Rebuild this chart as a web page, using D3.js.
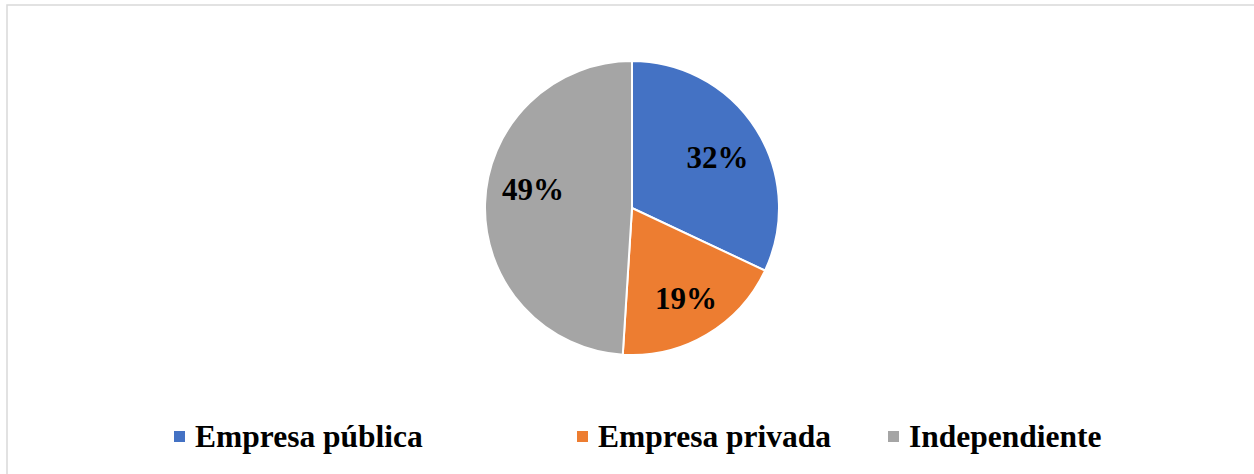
<!DOCTYPE html>
<html><head><meta charset="utf-8">
<script src="https://cdn.jsdelivr.net/npm/d3@7"></script>
<style>html,body{margin:0;padding:0;background:#fff;}svg{display:block;}</style>
</head><body>
<svg id="chart" width="1254" height="474"></svg>
<script>
const categories = ["Empresa pública", "Empresa privada", "Independiente"];
const values = [32, 19, 49];
const labels = ["32%", "19%", "49%"];
const colors = ["#4472C4", "#ED7D31", "#A5A5A5"];

const svg = d3.select("#chart");
svg.append("rect").attr("x", 7).attr("y", 5).attr("width", 1260).attr("height", 480)
  .attr("fill", "#fff").attr("stroke", "#d9d9d9").attr("stroke-width", 1.5);

const cx = 632, cy = 208, r = 147;
const pie = d3.pie().sort(null).value(d => d)(values);
const arc = d3.arc().innerRadius(0).outerRadius(r);
const g = svg.append("g").attr("transform", `translate(${cx},${cy})`);
g.selectAll("path").data(pie).enter().append("path")
  .attr("d", arc).attr("fill", (d, i) => colors[i])
  .attr("stroke", "#fff").attr("stroke-width", 2);

// label placement (best-fit style nudges)
const nudge = [[1, 3], [3, 4.5], [1, -16]];
const labelArc = d3.arc().innerRadius(r * 0.68).outerRadius(r * 0.68);
g.selectAll("text").data(pie).enter().append("text")
  .attr("transform", (d, i) => {
    const c = labelArc.centroid(d);
    return `translate(${c[0] + nudge[i][0]},${c[1] + nudge[i][1]})`;
  })
  .attr("text-anchor", "middle").attr("dy", "0.35em")
  .attr("font-family", "'Liberation Serif','Times New Roman',serif")
  .attr("font-weight", "bold").attr("font-size", 31).attr("fill", "#000")
  .text((d, i) => labels[i]);

const legX = [174, 577, 888];
const leg = svg.append("g");
categories.forEach((c, i) => {
  leg.append("rect").attr("x", legX[i]).attr("y", 431).attr("width", 11).attr("height", 11).attr("fill", colors[i]);
  leg.append("text").attr("x", legX[i] + 21).attr("y", 447)
    .attr("font-family", "'Liberation Serif','Times New Roman',serif")
    .attr("font-weight", "bold").attr("font-size", 31.5).attr("fill", "#000").text(c);
});
</script>
</body></html>
